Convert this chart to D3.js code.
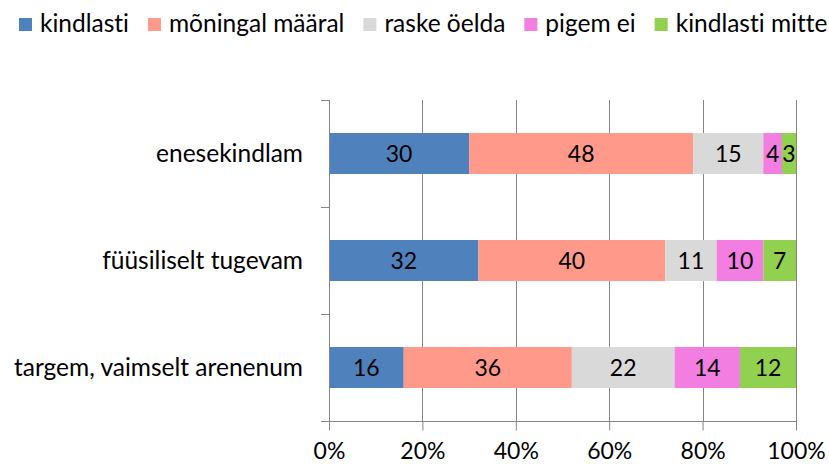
<!DOCTYPE html>
<html>
    <head>
        <meta charset="utf-8">
        <script src="https://d3js.org/d3.v7.min.js"></script>
        <style>
            body { margin: 0; background-color: white }
            text { font-family: Lato, "Liberation Sans", sans-serif; fill: #000; font-variant-ligatures: none }
        </style>
        <title>Stacked bars</title>
    </head>
    <body>
        <script>
            var width = 829;
            var height = 464;

            // data
            var categories = ["enesekindlam", "füüsiliselt tugevam", "targem, vaimselt arenenum"];
            var seriesNames = ["kindlasti", "mõningal määral", "raske öelda", "pigem ei", "kindlasti mitte"];
            var kindlasti = [30, 32, 16];
            var moningal = [48, 40, 36];
            var raske = [15, 11, 22];
            var pigemEi = [4, 10, 14];
            var kindlastiMitte = [3, 7, 12];
            var xTicks = [0, 20, 40, 60, 80, 100];

            var colors = ["#4f81bd", "#ff998a", "#d9d9d9", "#f27ee2", "#92d050"];
            var fontSize = 23;
            var labelSize = 24.5;

            // build rows for the stack
            var rows = categories.map(function(c, i) {
                return {
                    cat: c,
                    "kindlasti": kindlasti[i],
                    "mõningal määral": moningal[i],
                    "raske öelda": raske[i],
                    "pigem ei": pigemEi[i],
                    "kindlasti mitte": kindlastiMitte[i]
                };
            });
            var stacked = d3.stack().keys(seriesNames)(rows);

            var svg = d3.select("body")
                .append("svg")
                .attr("width", width)
                .attr("height", height);

            var plotL = 329, plotR = 796, plotT = 100, plotB = 421;

            var x = d3.scaleLinear().domain([0, 100]).range([plotL, plotR]);
            var y = d3.scaleBand()
                .domain(categories)
                .range([plotT, plotB])
                .paddingInner(0.617)
                .paddingOuter(0.3085);
            var color = d3.scaleOrdinal().domain(seriesNames).range(colors);

            // gridlines
            svg.append("g")
                .selectAll("line")
                .data(xTicks.slice(1))
                .enter()
                .append("line")
                .attr("x1", function(d) { return Math.round(x(d)) + 0.5; })
                .attr("x2", function(d) { return Math.round(x(d)) + 0.5; })
                .attr("y1", plotT)
                .attr("y2", plotB)
                .attr("stroke", "#868686")
                .attr("stroke-width", 1);

            // bars
            var layer = svg.append("g")
                .selectAll("g")
                .data(stacked)
                .enter()
                .append("g")
                .attr("fill", function(d) { return color(d.key); });

            layer.selectAll("rect")
                .data(function(d) { return d; })
                .enter()
                .append("rect")
                .attr("x", function(d) { return x(d[0]); })
                .attr("width", function(d) { return x(d[1]) - x(d[0]); })
                .attr("y", function(d) { return y(d.data.cat); })
                .attr("height", y.bandwidth());

            // value labels
            layer.selectAll("text")
                .data(function(d) { return d; })
                .enter()
                .append("text")
                .attr("x", function(d) { return (x(d[0]) + x(d[1])) / 2; })
                .attr("y", function(d) { return y(d.data.cat) + y.bandwidth() / 2; })
                .attr("dy", "0.35em")
                .attr("text-anchor", "middle")
                .style("font-size", fontSize + "px")
                .text(function(d) { return d[1] - d[0]; });

            // y axis line and ticks at band edges
            var step = y.step();
            var edges = d3.range(categories.length + 1).map(function(i) { return plotT + i * step; });
            svg.append("line")
                .attr("x1", plotL + 0.5).attr("x2", plotL + 0.5)
                .attr("y1", plotT).attr("y2", plotB)
                .attr("stroke", "#868686");
            svg.append("g")
                .selectAll("line")
                .data(edges)
                .enter()
                .append("line")
                .attr("x1", plotL - 8).attr("x2", plotL)
                .attr("y1", function(d) { return Math.round(d) + 0.5; })
                .attr("y2", function(d) { return Math.round(d) + 0.5; })
                .attr("stroke", "#868686");

            // category labels
            svg.append("g")
                .selectAll("text")
                .data(categories)
                .enter()
                .append("text")
                .attr("x", 303)
                .attr("y", function(d) { return y(d) + y.bandwidth() / 2; })
                .attr("dy", "0.35em")
                .attr("text-anchor", "end")
                .style("font-size", labelSize + "px")
                .text(function(d) { return d; });

            // x axis
            var xAxis = d3.axisBottom(x)
                .tickValues(xTicks)
                .tickSize(9)
                .tickPadding(12)
                .tickFormat(function(d) { return d + "%"; });
            var ax = svg.append("g")
                .attr("transform", "translate(0," + (plotB + 0.5) + ")")
                .call(xAxis);
            ax.select(".domain").remove();
            ax.append("line")
                .attr("x1", plotL - 8).attr("x2", plotR + 1)
                .attr("stroke", "#868686");
            ax.selectAll(".tick line").attr("stroke", "#868686");
            ax.selectAll(".tick text")
                .style("font-size", fontSize + "px")
                .style("font-family", "Lato, 'Liberation Sans', sans-serif")
                .attr("fill", "#000");

            // legend
            var legend = svg.append("g");
            var lx = 19;
            seriesNames.forEach(function(name, i) {
                legend.append("rect")
                    .attr("x", lx).attr("y", 18)
                    .attr("width", 13).attr("height", 13)
                    .attr("fill", colors[i]);
                var t = legend.append("text")
                    .attr("x", lx + 21)
                    .attr("y", 32)
                    .style("font-size", labelSize + "px")
                    .text(name);
                lx += 21 + t.node().getComputedTextLength() + 19;
            });
        </script>
    </body>
</html>
